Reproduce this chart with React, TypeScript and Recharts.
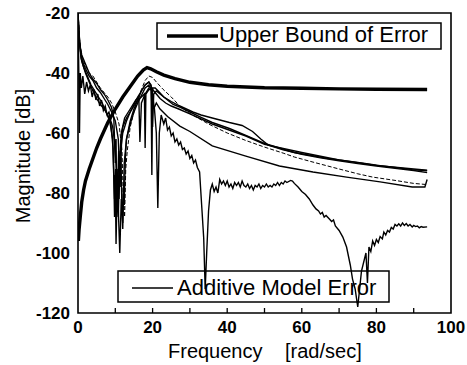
import React from "react";
import { LineChart, Line, XAxis, YAxis, ReferenceArea } from "recharts";

type P = { f: number; v: number };
const mk = (pairs: number[][]): P[] => pairs.map(([f, v]) => ({ f, v }));

const xTicks = [0, 10, 20, 30, 40, 50, 60, 70, 80, 90, 100];
const yTicks = [-120, -100, -80, -60, -40, -20];

const upperBound = mk([
  [0.1, -96], [0.3, -92], [0.6, -88], [1, -83], [1.5, -79], [2, -76], [3, -72], [4, -68.5], [5, -65],
  [6, -62], [8, -56.5], [10, -52], [12, -48], [14, -44.5], [16, -41], [17.5, -39], [18.5, -38.2],
  [19.5, -38.6], [21, -39.6], [23, -40.7], [26, -41.9], [30, -43.1], [35, -43.9], [40, -44.4],
  [50, -44.9], [60, -45.1], [70, -45.3], [80, -45.4], [93.6, -45.5],
]);

const errA = mk([
  [0, -21], [0.2, -38], [0.4, -60], [0.6, -40], [0.9, -45], [1.3, -41], [1.8, -47], [2.3, -43],
  [2.8, -46], [3.3, -44], [3.8, -48], [4.3, -45.5], [4.8, -49], [5.3, -47], [5.8, -51], [6.3, -49],
  [6.8, -52.5], [7.3, -51], [7.8, -54], [8.3, -53], [8.8, -56], [9.3, -58], [9.8, -63], [10.3, -72],
  [10.8, -85], [11.2, -100], [11.6, -82], [12, -90], [12.4, -70], [13, -62], [14, -57], [15, -53],
  [16, -50], [17, -47.5], [18, -45], [19, -44], [19.8, -46], [20.5, -52], [21, -60], [21.4, -85],
  [21.8, -60], [22.3, -54], [23, -57], [23.5, -55], [24, -59], [24.5, -58], [25, -61], [25.5, -60],
  [26, -63], [26.5, -62], [27, -64], [27.5, -63], [28, -65.5], [28.5, -65], [29, -67], [29.5, -66],
  [30, -68.5], [30.5, -67.5], [31, -70], [31.5, -69], [32, -71.5], [32.6, -73], [33.2, -85],
  [33.7, -95], [34.1, -112], [34.5, -100], [35, -86], [35.5, -79], [36, -77], [36.5, -79.5],
  [37, -78], [37.5, -80], [38, -75.5], [38.5, -77], [39, -76], [39.5, -77.5], [40, -76],
  [40.5, -78], [41, -77], [41.5, -78.5], [42, -76.5], [42.5, -77.5], [43, -76.5], [43.5, -78],
  [44, -76], [44.5, -77.5], [45, -78], [45.5, -77], [46, -78.5], [46.5, -77.5], [47, -79],
  [47.5, -77.5], [48, -78], [48.5, -77], [49, -78.5], [49.5, -77.5], [50, -78], [50.5, -77],
  [51, -78], [51.5, -77.5], [52, -78], [52.5, -77], [53, -77.5], [53.5, -76.5], [54, -77.5],
  [54.5, -76.5], [55, -77], [55.5, -76], [56, -76.5], [57, -75.8], [57.5, -76], [58, -76.8],
  [59, -78], [60, -79.5], [61, -80.5], [62, -82], [63, -84], [63.8, -85.3], [64.5, -86], [65, -87],
  [65.5, -86.5], [66, -88], [66.5, -87.5], [67.4, -88.7], [68, -89.5], [68.5, -89], [69, -91],
  [70, -92.5], [71, -94.7], [72, -98], [73, -104], [73.6, -108.7], [74.3, -112], [75, -118],
  [75.5, -112], [76, -106], [76.8, -102], [77.2, -100], [77.6, -110], [78, -98], [78.5, -99.5],
  [79, -96], [79.5, -97.5], [80, -95.5], [80.5, -96.5], [81, -94.5], [81.6, -95.3], [82, -93],
  [82.5, -94], [83, -92.5], [83.5, -93], [84, -91.5], [84.5, -92], [85, -90.5], [85.5, -91],
  [86, -90.3], [86.5, -91], [87, -90], [87.5, -90.8], [88, -90.2], [88.5, -91], [89, -90.5],
  [89.6, -91.3], [90, -90.8], [90.5, -91.2], [91, -91], [91.5, -91.6], [92, -91.2], [92.5, -91.4],
  [93.6, -91.3],
]);

const errB = mk([
  [0, -20], [0.4, -30], [1, -36], [2, -40], [3, -43], [4, -46], [5, -48.5], [6, -50.5], [7, -52],
  [8, -54], [8.8, -57], [9.4, -65], [9.8, -82], [10, -74], [10.2, -97], [10.5, -78], [10.8, -88],
  [11.2, -68], [12, -60], [13, -56], [14, -53], [15, -50.5], [16, -48], [17, -46], [18, -44],
  [19, -43], [19.8, -45], [20.3, -52], [21, -50], [22, -52], [24, -54.5], [27.3, -57.7],
  [30, -59.5], [36, -64.3], [45, -67.7], [54, -71], [63, -73], [72, -74.7], [81, -76.3],
  [89.6, -78], [93, -78], [93.6, -75.5],
]);

const errC = mk([
  [0, -20], [0.3, -27], [0.7, -33], [1.2, -36], [2, -38.5], [3, -41], [4, -42.5], [5, -45],
  [6, -46.5], [7, -48.5], [8, -50.5], [9, -53], [10, -56], [10.8, -62], [11.2, -75], [11.5, -68],
  [11.8, -86], [12, -92], [12.2, -78], [12.4, -84], [12.7, -68], [13, -62], [14, -56], [15, -52],
  [16, -49], [17, -46], [18, -44], [19, -43], [19.6, -44], [20, -58], [20.3, -47], [21, -46],
  [22.5, -47.5], [24, -49], [25.5, -50.5], [27.3, -51.4], [30, -53], [33, -54.8], [36, -56.5],
  [40.6, -58.5], [45, -60.8], [50, -63.5], [54, -65], [58, -66.5], [63, -67.6], [67, -68.5],
  [72, -69.3], [76, -70], [81, -70.9], [85, -71.5], [89.6, -72.2], [93.6, -72.6],
]);

const errD = mk([
  [0, -22], [0.4, -30], [1, -34], [2, -37], [3, -40], [4, -42], [5, -43.5], [6, -45.5], [7, -47],
  [8, -49], [9, -51.5], [9.6, -55], [10, -70], [10.2, -62], [10.4, -86], [10.7, -72], [11, -82],
  [11.3, -66], [11.6, -60], [12.5, -55], [14, -52], [15.5, -49], [16.3, -48], [16.6, -63],
  [17, -50], [18, -47], [19, -45], [19.6, -45], [19.8, -74], [20, -45], [20.7, -45], [21.5, -46],
  [23, -48], [25, -49.5], [27.3, -51], [30.8, -53], [33, -54], [36, -55], [40.6, -56.5],
  [44, -57.5], [46.8, -59.5], [49, -62], [51, -64], [55, -65.6], [60, -67.1], [65, -68.3],
  [70, -69.3], [75, -70.2], [80, -71], [85, -71.8], [90, -72.5], [93.6, -73.2],
]);

const errE = mk([
  [0, -20], [0.5, -30], [1, -34.5], [2, -37.5], [3, -40], [4, -41], [5, -43], [6, -45],
  [7, -46.5], [8, -48], [9, -50], [10, -53], [11, -57], [11.8, -66], [12.1, -80], [12.5, -88],
  [12.8, -72], [13.2, -66], [14, -58], [15, -53], [16, -49], [17, -45.5], [18, -42.5], [19, -41],
  [20, -41.5], [21, -43], [22.7, -45.3], [25, -48], [27.3, -51], [30, -53.5], [35, -57],
  [40, -60], [45, -62.5], [50, -64.7], [55, -66.7], [58, -68], [63, -69.7], [70, -72],
  [75, -73.6], [79, -74.7], [85, -75.8], [90, -76.8], [93.6, -77.2],
]);

const errF = mk([
  [0, -20], [0.3, -28], [0.8, -35], [1.5, -38], [2.5, -41], [3.5, -44], [4.5, -46], [5.5, -48],
  [6.5, -50], [7.5, -53], [8.5, -56], [9.3, -62], [9.6, -75], [9.8, -88], [10.1, -72], [10.5, -84],
  [10.9, -66], [11.3, -78], [11.7, -62], [12, -58], [13, -55], [14, -53], [15, -51], [16, -49],
  [17, -48], [17.8, -47], [18, -65], [18.2, -47], [19, -45.5], [20, -45.5], [21, -47],
  [22, -48.5], [23.5, -50], [25, -51], [27, -52], [30, -53.6], [36, -57], [45, -61], [50, -63.8],
  [60, -66.5], [70, -69], [80, -70.8], [90, -72], [93.6, -72.4],
]);

const thinSeries = [errA, errB, errC, errD, errF];

const FONT = "'Liberation Sans', Arial, Helvetica, sans-serif";

const XTick = (props: any) => {
  const { x, y, payload } = props;
  const v = payload.value;
  return (
    <g>
      {v > 0 && v < 100 ? <line x1={x} x2={x} y1={y} y2={y - 5} stroke="#000" strokeWidth={1.3} /> : null}
      {v % 20 === 0 ? (
        <text x={x} y={y + 20} textAnchor="middle" fontSize={17} fontWeight="bold" fontFamily={FONT} fill="#000">
          {v}
        </text>
      ) : null}
    </g>
  );
};

export default function App() {
  return (
    <div style={{ position: "absolute", left: 0, top: 0, width: 467, height: 365, background: "#fff" }}>
      <LineChart width={467} height={365} margin={{ top: 13, right: 16, bottom: 0, left: 0 }}>
        <XAxis
          dataKey="f"
          type="number"
          domain={[0, 100]}
          ticks={xTicks}
          interval={0}
          allowDataOverflow
          height={52}
          tickSize={0}
          tickMargin={0}
          axisLine={false}
          tickLine={false}
          tick={<XTick />}
        />
        <YAxis
          type="number"
          domain={[-120, -20]}
          ticks={yTicks}
          interval={0}
          allowDataOverflow
          width={78}
          axisLine={false}
          tickLine={false}
          tick={{ fontSize: 17, fontWeight: "bold", fill: "#000", fontFamily: FONT }}
        />
        <ReferenceArea x1={0} x2={100} y1={-120} y2={-20} fill="none" stroke="#000" strokeWidth={1.6} />
        {thinSeries.map((d, i) => (
          <Line
            key={i}
            data={d}
            dataKey="v"
            type="linear"
            stroke="#000"
            strokeWidth={1.4}
            dot={false}
            isAnimationActive={false}
          />
        ))}
        <Line
          data={errE}
          dataKey="v"
          type="linear"
          stroke="#000"
          strokeWidth={1}
          strokeDasharray="4 2"
          dot={false}
          isAnimationActive={false}
        />
        <Line
          data={upperBound}
          dataKey="v"
          type="linear"
          stroke="#000"
          strokeWidth={3.4}
          dot={false}
          isAnimationActive={false}
        />
      </LineChart>
      <svg
        width={467}
        height={365}
        style={{ position: "absolute", left: 0, top: 0, pointerEvents: "none" }}
      >
        <rect x={157} y={23} width={284} height={26} fill="none" stroke="#000" strokeWidth={1.5} />
        <line x1={167} x2={218} y1={36} y2={36} stroke="#000" strokeWidth={3.4} />
        <text x={219} y={42} fontSize={22} fontFamily={FONT} fill="#000">Upper Bound of Error</text>
        <rect x={118} y={271} width={271} height={31} fill="none" stroke="#000" strokeWidth={1.5} />
        <line x1={132} x2={173} y1={288} y2={288} stroke="#000" strokeWidth={1.3} />
        <text x={177} y={295} fontSize={22} fontFamily={FONT} fill="#000">Additive Model Error</text>
        <text x={168} y={358} fontSize={20} fontFamily={FONT} fill="#000">Frequency</text>
        <text x={285} y={358} fontSize={20} fontFamily={FONT} fill="#000">[rad/sec]</text>
        <text transform="translate(30,156) rotate(-90)" textAnchor="middle" fontSize={20} fontFamily={FONT} fill="#000">
          Magnitude [dB]
        </text>
      </svg>
    </div>
  );
}
